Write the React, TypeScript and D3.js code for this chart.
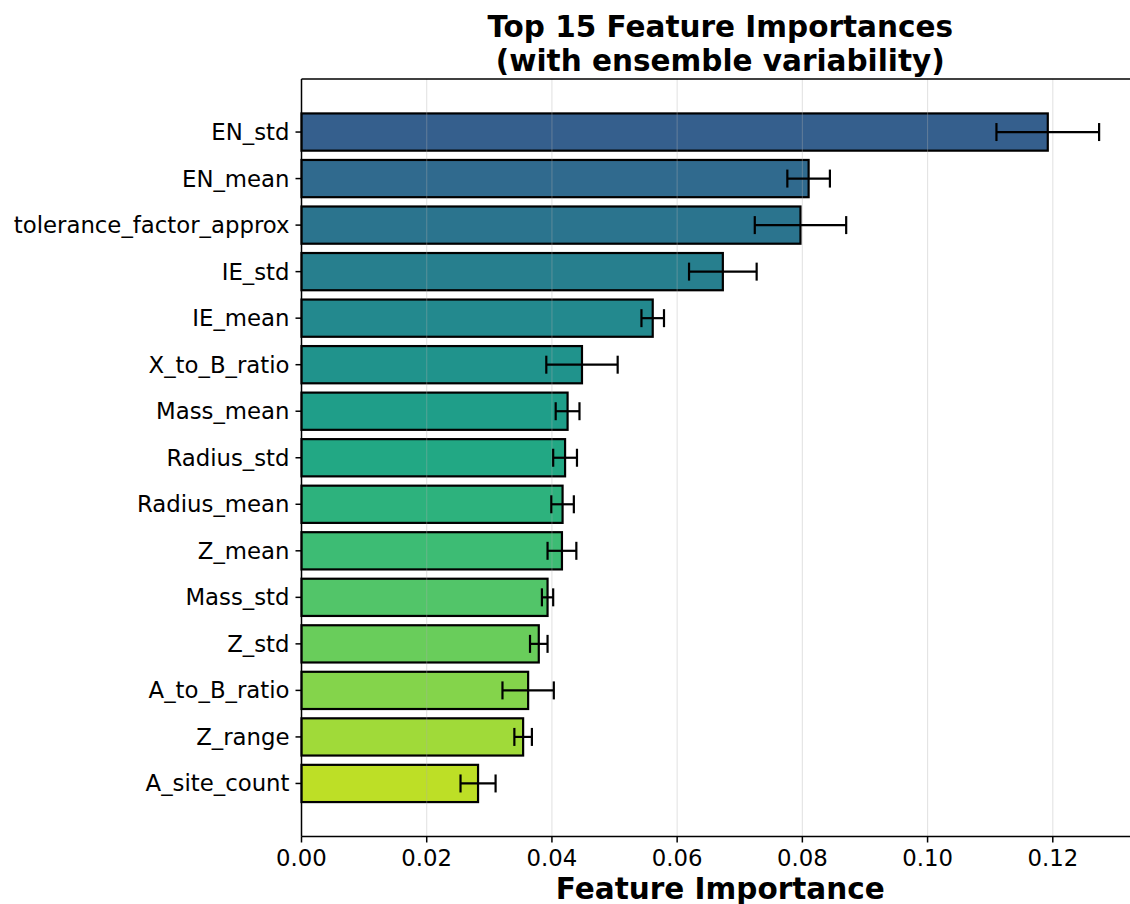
import React from "react";
import * as d3 from "d3";

// Feature names, top to bottom
const features = [
  "EN_std",
  "EN_mean",
  "tolerance_factor_approx",
  "IE_std",
  "IE_mean",
  "X_to_B_ratio",
  "Mass_mean",
  "Radius_std",
  "Radius_mean",
  "Z_mean",
  "Mass_std",
  "Z_std",
  "A_to_B_ratio",
  "Z_range",
  "A_site_count",
];

// Mean importance across the ensemble
const importances = [
  0.1192, 0.081, 0.0797, 0.0673, 0.0561, 0.0448, 0.0425, 0.0421, 0.0417,
  0.0416, 0.0393, 0.0379, 0.0362, 0.0354, 0.0282,
];

// Standard deviation across the ensemble
const stdevs = [
  0.0082, 0.0034, 0.0073, 0.0054, 0.0018, 0.0057, 0.0019, 0.0019, 0.0018,
  0.0023, 0.0009, 0.0014, 0.0041, 0.0014, 0.0028,
];

const xTicks = [0, 0.02, 0.04, 0.06, 0.08, 0.1, 0.12];

const W = 1130;
const H = 904;
const margin = { left: 301.5, right: 1139, top: 79, bottom: 836.5 };
const FONT = "DejaVu Sans, sans-serif";
const TICK_FONT = 22.8;
const TITLE_FONT = 29.5;

export default function App() {
  const n = features.length;
  const maxExtent = d3.max(importances.map((v, i) => v + stdevs[i])) as number;
  const x = d3
    .scaleLinear()
    .domain([0, maxExtent * 1.05])
    .range([margin.left, margin.right]);
  // categorical positions 0..n-1 with padding around the bars
  const pad = 0.4 + 0.05 * (n - 1 + 0.8);
  const y = d3
    .scaleLinear()
    .domain([-pad, n - 1 + pad])
    .range([margin.top, margin.bottom]);
  const barH = y(0.4) - y(-0.4);
  const color = (i: number) => d3.interpolateViridis(0.3 + (0.6 * i) / (n - 1));
  const cap = 9;
  const cx = (margin.left + margin.right) / 2;

  return (
    <svg
      width={W}
      height={H}
      style={{ position: "absolute", left: 0, top: 0, background: "#fff" }}
      fontFamily={FONT}
    >
      <rect width={W} height={H} fill="#fff" />
      {/* bars */}
      {features.map((f, i) => (
        <rect
          key={f}
          x={x(0)}
          y={y(i) - barH / 2}
          width={x(importances[i]) - x(0)}
          height={barH}
          fill={color(i)}
          stroke="#000"
          strokeWidth={2.2}
        />
      ))}
      {/* vertical grid */}
      {xTicks.map((t) => (
        <line
          key={"g" + t}
          x1={x(t)}
          x2={x(t)}
          y1={margin.top}
          y2={margin.bottom}
          stroke="#b0b0b0"
          strokeOpacity={0.35}
          strokeWidth={1.1}
        />
      ))}
      {/* error bars */}
      {features.map((f, i) => {
        const lo = x(importances[i] - stdevs[i]);
        const hi = x(importances[i] + stdevs[i]);
        const cy = y(i);
        return (
          <g key={"e" + f} stroke="#000" strokeWidth={2.2}>
            <line x1={lo} x2={hi} y1={cy} y2={cy} />
            <line x1={lo} x2={lo} y1={cy - cap} y2={cy + cap} />
            <line x1={hi} x2={hi} y1={cy - cap} y2={cy + cap} />
          </g>
        );
      })}
      {/* spines */}
      <g stroke="#000" strokeWidth={1.5} fill="none">
        <line x1={margin.left} x2={margin.left} y1={margin.top} y2={margin.bottom} />
        <line x1={margin.left} x2={margin.right} y1={margin.top} y2={margin.top} />
        <line x1={margin.left} x2={margin.right} y1={margin.bottom} y2={margin.bottom} />
        <line x1={margin.right} x2={margin.right} y1={margin.top} y2={margin.bottom} />
      </g>
      {/* y ticks and labels */}
      {features.map((f, i) => (
        <g key={"yt" + f}>
          <line
            x1={margin.left - 6}
            x2={margin.left}
            y1={y(i)}
            y2={y(i)}
            stroke="#000"
            strokeWidth={1.5}
          />
          <text
            x={margin.left - 12}
            y={y(i)}
            dy="0.35em"
            textAnchor="end"
            fontSize={TICK_FONT}
            fill="#000"
          >
            {f}
          </text>
        </g>
      ))}
      {/* x ticks and labels */}
      {xTicks.map((t) => (
        <g key={"xt" + t}>
          <line
            x1={x(t)}
            x2={x(t)}
            y1={margin.bottom}
            y2={margin.bottom + 6}
            stroke="#000"
            strokeWidth={1.5}
          />
          <text
            x={x(t)}
            y={866}
            textAnchor="middle"
            fontSize={TICK_FONT}
            fill="#000"
          >
            {t.toFixed(2)}
          </text>
        </g>
      ))}
      <text
        x={cx}
        y={899}
        textAnchor="middle"
        fontSize={TITLE_FONT}
        fontWeight="bold"
        fill="#000"
      >
        Feature Importance
      </text>
      <text x={cx} y={37} textAnchor="middle" fontSize={TITLE_FONT} fontWeight="bold" fill="#000">
        Top 15 Feature Importances
      </text>
      <text x={cx} y={71} textAnchor="middle" fontSize={TITLE_FONT} fontWeight="bold" fill="#000">
        (with ensemble variability)
      </text>
    </svg>
  );
}
